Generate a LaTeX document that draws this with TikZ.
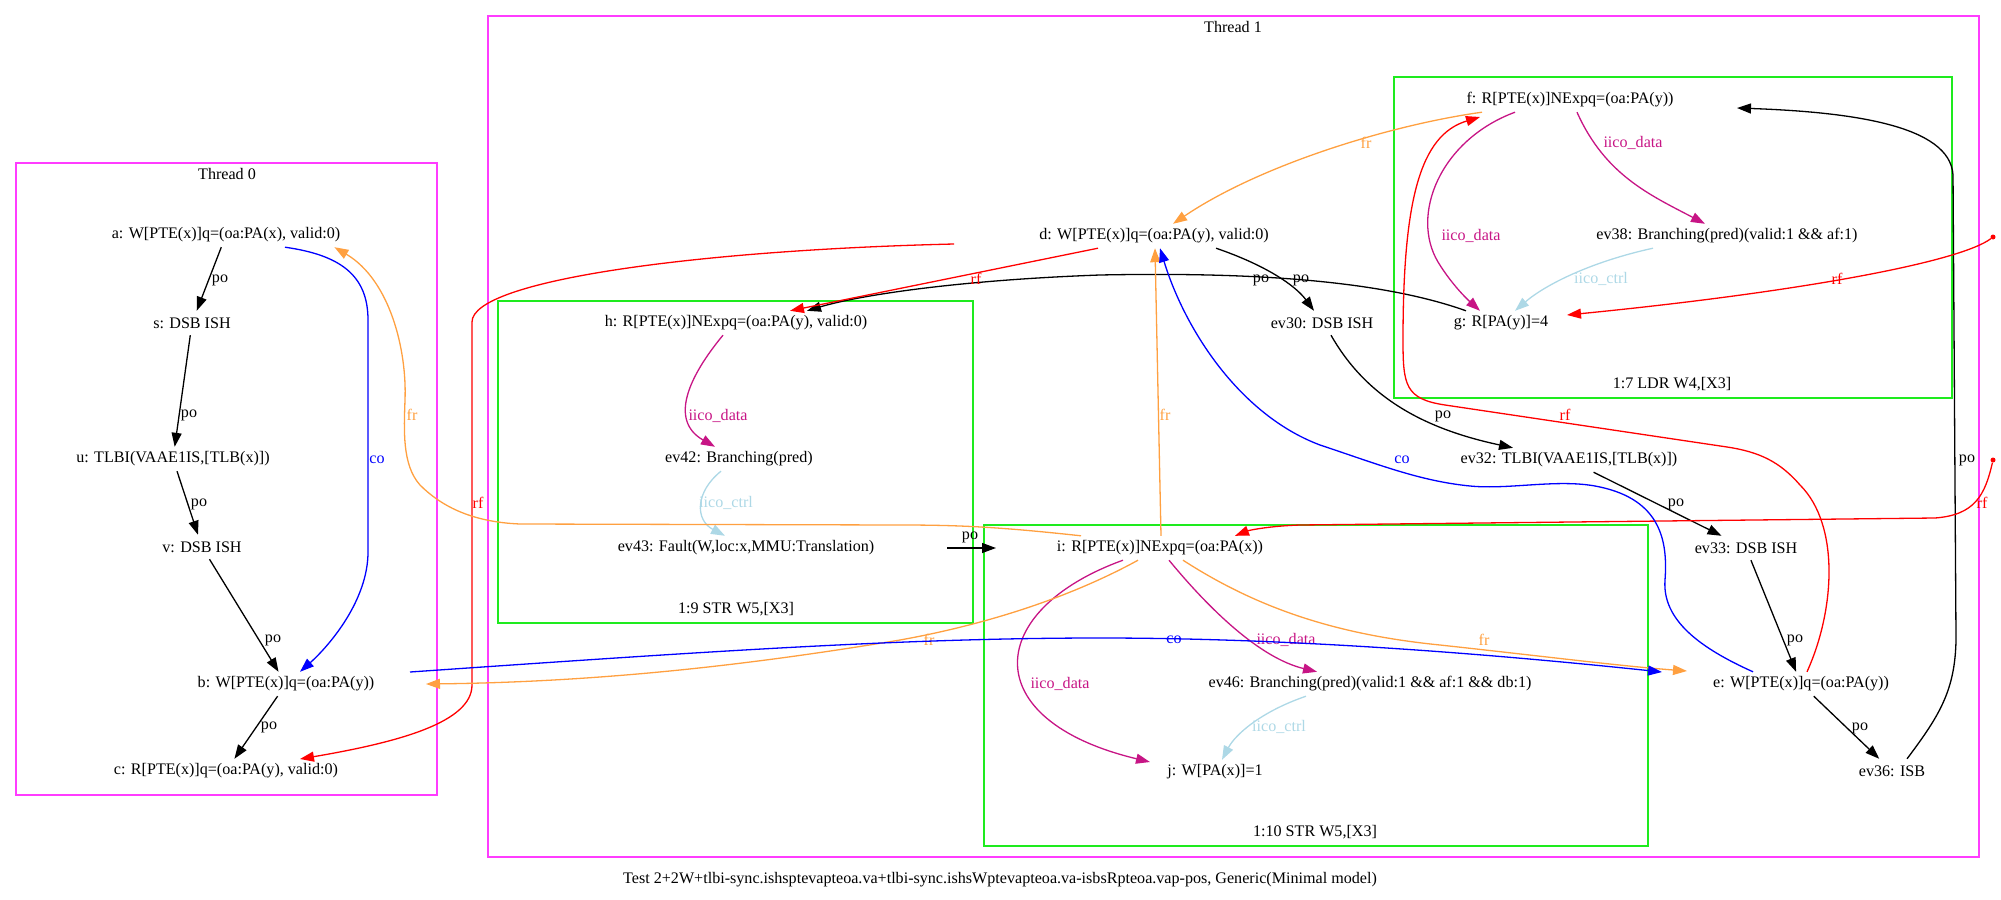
\documentclass[tikz,border=0pt]{standalone}
\usepackage{fontspec}
\setmainfont{Liberation Serif}
\usetikzlibrary{arrows.meta}

\definecolor{thrMagenta}{RGB}{255,60,255}
\definecolor{insGreen}{RGB}{30,235,30}
\definecolor{frOrange}{RGB}{255,160,64}
\definecolor{dataViolet}{RGB}{199,21,133}
\definecolor{ctrlBlue}{RGB}{173,216,230}
\newcommand\evfont{\fontsize{16.1}{18}\selectfont}

\begin{document}
\begin{tikzpicture}[
    x=1pt, y=-1pt,
    % Node Styles
    evNode/.style = {inner sep=0pt, minimum height=24pt, font=\evfont},
    edgeLbl/.style = {inner sep=0pt, font=\evfont},
    rfDot/.style = {circle, fill=red, inner sep=0pt, minimum size=5pt},
    threadBox/.style = {draw=thrMagenta, line width=1.6pt},
    instrBox/.style = {draw=insGreen, line width=1.6pt},
    % Edge Styles
    baseEdge/.style = {line width=1.3pt, -{Triangle[length=14pt, width=10pt]}},
    poEdge/.style = {baseEdge, color=black},
    rfEdge/.style = {baseEdge, color=red},
    frEdge/.style = {baseEdge, color=frOrange},
    coEdge/.style = {baseEdge, color=blue},
    dataEdge/.style = {baseEdge, color=dataViolet},
    ctrlEdge/.style = {baseEdge, color=ctrlBlue}
]
\useasboundingbox (0,0) rectangle (2001,899);

% ==========================================
% CLUSTERS
% ==========================================
\draw[threadBox] (16,163) rectangle (437,795);
\node[edgeLbl] (T0) at (227,174) {Thread 0};
\draw[threadBox] (488,16) rectangle (1979,857);
\node[edgeLbl] (T1) at (1233,27) {Thread 1};
\draw[instrBox] (498,301) rectangle (973,623);
\node[edgeLbl] (L9) at (736,609) {1:9 STR W5,[X3]};
\draw[instrBox] (1394,77) rectangle (1952,398);
\node[edgeLbl] (L7) at (1672,384) {1:7 LDR W4,[X3]};
\draw[instrBox] (984,525) rectangle (1648,846);
\node[edgeLbl] (L10) at (1315,832) {1:10 STR W5,[X3]};
\node[edgeLbl] (caption) at (1000,880) {Test 2+2W+tlbi-sync.ishsptevapteoa.va+tlbi-sync.ishsWptevapteoa.va-isbsRpteoa.vap-pos, Generic(Minimal model)};

% ==========================================
% EVENTS: THREAD 0
% ==========================================
\node[evNode] (a) at (226,235) {a: W[PTE(x)]q=(oa:PA(x), valid:0)};
\node[evNode] (s) at (192,323) {s: DSB ISH};
\node[evNode] (u) at (173,459) {u: TLBI(VAAE1IS,[TLB(x)])};
\node[evNode] (v) at (202,547) {v: DSB ISH};
\node[evNode] (b) at (286,684) {b: W[PTE(x)]q=(oa:PA(y))};
\node[evNode] (c) at (226,771) {c: R[PTE(x)]q=(oa:PA(y), valid:0)};

% ==========================================
% EVENTS: THREAD 1
% ==========================================
\node[evNode] (d) at (1154,236) {d: W[PTE(x)]q=(oa:PA(y), valid:0)};
\node[evNode] (ev30) at (1322,323) {ev30: DSB ISH};
\node[evNode] (ev32) at (1569,460) {ev32: TLBI(VAAE1IS,[TLB(x)])};
\node[evNode] (ev33) at (1746,548) {ev33: DSB ISH};
\node[evNode] (e) at (1801,684) {e: W[PTE(x)]q=(oa:PA(y))};
\node[evNode] (ev36) at (1892,771) {ev36: ISB};
\node[evNode] (h) at (736,323) {h: R[PTE(x)]NExpq=(oa:PA(y), valid:0)};
\node[evNode] (ev42) at (739,459) {ev42: Branching(pred)};
\node[evNode] (ev43) at (746,548) {ev43: Fault(W,loc:x,MMU:Translation)};
\node[evNode] (i) at (1160,548) {i: R[PTE(x)]NExpq=(oa:PA(x))};
\node[evNode] (ev46) at (1370,684) {ev46: Branching(pred)(valid:1 \&\& af:1 \&\& db:1)};
\node[evNode] (j) at (1215,772) {j: W[PA(x)]=1};
\node[evNode] (f) at (1570,100) {f: R[PTE(x)]NExpq=(oa:PA(y))};
\node[evNode] (ev38) at (1727,236) {ev38: Branching(pred)(valid:1 \&\& af:1)};
\node[evNode] (g) at (1501,323) {g: R[PA(y)]=4};
\node[rfDot] (src1) at (1993,237) {};
\node[rfDot] (src2) at (1993,460) {};

% ==========================================
% PROGRAM ORDER
% ==========================================
\draw[poEdge] (a) -- (s) node[edgeLbl] at (220,280) {po};
\draw[poEdge] (s) -- (u) node[edgeLbl] at (189,415) {po};
\draw[poEdge] (u) -- (v) node[edgeLbl] at (199,504) {po};
\draw[poEdge] (v) -- (b) node[edgeLbl] at (273,640) {po};
\draw[poEdge] (b) -- (c) node[edgeLbl] at (269,727) {po};
\draw[poEdge] ([xshift=62pt]d.south) .. controls (1265,265) and (1295,285) .. ([xshift=-8pt]ev30.north)
    node[edgeLbl] at (1301,280) {po};
\draw[poEdge] ([xshift=-35pt]g.north) .. controls (1380,280) and (1250,272) .. (1100,275)
    .. controls (960,280) and (860,295) .. ([xshift=71pt]h.north)
    node[edgeLbl] at (1261,280) {po};
\draw[poEdge] ([xshift=9pt]ev30.south) .. controls (1365,395) and (1420,428) .. ([xshift=-56pt]ev32.north)
    node[edgeLbl] at (1443,416) {po};
\draw[poEdge] (ev32) -- (ev33) node[edgeLbl] at (1676,504) {po};
\draw[poEdge] (ev33) -- (e) node[edgeLbl] at (1795,640) {po};
\draw[poEdge] (e) -- (ev36) node[edgeLbl] at (1860,728) {po};
\draw[poEdge] ([xshift=15pt]ev36.north) .. controls (1940,715) and (1955,690) .. (1956,640) -- (1953,175)
    .. controls (1950,125) and (1850,112) .. ([xshift=167pt,yshift=-8pt]f.center)
    node[edgeLbl] at (1967,460) {po};
\draw[poEdge] ([xshift=201pt]ev43.center) -- ([xshift=-164pt]i.center) node[edgeLbl] at (970,537) {po};

% ==========================================
% INTRA-INSTRUCTION DEPENDENCIES
% ==========================================
\draw[dataEdge] ([xshift=-13pt]h.south) .. controls (690,375) and (668,420) .. ([xshift=-24pt]ev42.north)
    node[edgeLbl] at (718,416) {iico\_data};
\draw[ctrlEdge] ([xshift=-18pt]ev42.south) .. controls (695,492) and (695,520) .. ([xshift=-21pt]ev43.north)
    node[edgeLbl] at (726,503) {iico\_ctrl};
\draw[dataEdge] ([xshift=-55pt]f.south) .. controls (1440,140) and (1410,215) .. (1438,262)
    .. controls (1452,285) and (1468,300) .. ([xshift=-21pt]g.north)
    node[edgeLbl] at (1471,236) {iico\_data};
\draw[dataEdge] ([xshift=7pt]f.south) .. controls (1605,175) and (1650,195) .. ([xshift=-22pt]ev38.north)
    node[edgeLbl] at (1633,143) {iico\_data};
\draw[ctrlEdge] ([xshift=-74pt]ev38.south) .. controls (1590,262) and (1545,285) .. ([xshift=14pt]g.north)
    node[edgeLbl] at (1601,279) {iico\_ctrl};
\draw[dataEdge] ([xshift=-37pt]i.south) .. controls (985,610) and (975,720) .. ([xshift=-65pt,yshift=10pt]j.center)
    node[edgeLbl] at (1060,684) {iico\_data};
\draw[dataEdge] ([xshift=9pt]i.south) .. controls (1210,610) and (1260,658) .. ([xshift=-53pt]ev46.north)
    node[edgeLbl] at (1286,640) {iico\_data};
\draw[ctrlEdge] ([xshift=-64pt]ev46.south) .. controls (1260,712) and (1235,735) .. ([xshift=7pt]j.north)
    node[edgeLbl] at (1279,727) {iico\_ctrl};

% ==========================================
% READS-FROM
% ==========================================
\draw[rfEdge] ([xshift=-200pt,yshift=-8pt]d.center) .. controls (700,250) and (472,280) .. (472,322) -- (472,685)
    .. controls (472,722) and (400,742) .. ([xshift=74pt,yshift=12pt]c.center)
    node[edgeLbl] at (478,503) {rf};
\draw[rfEdge] ([xshift=-56pt]d.south) -- ([xshift=54pt]h.north) node[edgeLbl] at (976,279) {rf};
\draw[rfEdge] ([xshift=6pt]e.north) .. controls (1835,610) and (1840,525) .. (1800,485)
    .. controls (1780,462) and (1760,452) .. (1727,447) -- (1445,405)
    .. controls (1405,399) and (1403,385) .. (1403,340)
    .. controls (1403,200) and (1420,135) .. ([xshift=-90pt,yshift=-17pt]f.center)
    node[edgeLbl] at (1565,415) {rf};
\draw[rfEdge] (src1) .. controls (1960,262) and (1800,292) .. ([xshift=66pt,yshift=8pt]g.center)
    node[edgeLbl] at (1837,279) {rf};
\draw[rfEdge] (src2) .. controls (1985,495) and (1975,515) .. (1935,518) -- (1300,525)
    .. controls (1270,526) and (1250,530) .. ([xshift=75pt]i.north)
    node[edgeLbl] at (1982,503) {rf};

% ==========================================
% FROM-READS
% ==========================================
\draw[frEdge] ([xshift=-79pt]i.north) .. controls (1000,527) and (960,525) .. (900,525) -- (520,524)
    .. controls (470,522) and (440,505) .. (420,485) .. controls (402,465) and (404,430) .. (405,400)
    .. controls (407,350) and (390,280) .. ([xshift=-6pt]a.south east)
    node[edgeLbl] at (412,415) {fr};
\draw[frEdge] ([xshift=-88pt]f.south) .. controls (1390,125) and (1260,165) .. ([xshift=19pt]d.north)
    node[edgeLbl] at (1366,143) {fr};
\draw[frEdge] ([xshift=1pt]i.north) -- ([xshift=1pt]d.south) node[edgeLbl] at (1165,415) {fr};
\draw[frEdge] ([xshift=-22pt]i.south) .. controls (1080,592) and (1000,622) .. (900,640)
    .. controls (750,665) and (600,682) .. ([xshift=140pt]b.center)
    node[edgeLbl] at (929,640) {fr};
\draw[frEdge] ([xshift=23pt]i.south) .. controls (1260,610) and (1340,635) .. (1440,645)
    .. controls (1550,657) and (1620,666) .. ([xshift=-114pt,yshift=13pt]e.center)
    node[edgeLbl] at (1484,640) {fr};

% ==========================================
% COHERENCE
% ==========================================
\draw[coEdge] ([xshift=59pt]a.south) .. controls (340,255) and (368,275) .. (368,320) -- (368,552)
    .. controls (368,600) and (330,645) .. ([xshift=14pt]b.north)
    node[edgeLbl] at (377,460) {co};
\draw[coEdge] ([xshift=124pt,yshift=12pt]b.center) .. controls (700,652) and (900,638) .. (1100,638)
    .. controls (1300,638) and (1500,655) .. ([xshift=-139pt,yshift=12pt]e.center)
    node[edgeLbl] at (1174,640) {co};
\draw[coEdge] ([xshift=-48pt]e.north) .. controls (1700,648) and (1662,620) .. (1665,580)
    .. controls (1668,540) and (1660,500) .. (1600,487) .. controls (1560,478) and (1510,490) .. (1470,486)
    .. controls (1420,481) and (1380,465) .. (1320,445) .. controls (1240,415) and (1185,330) .. ([xshift=6pt]d.south)
    node[edgeLbl] at (1402,460) {co};

\end{tikzpicture}
\end{document}
